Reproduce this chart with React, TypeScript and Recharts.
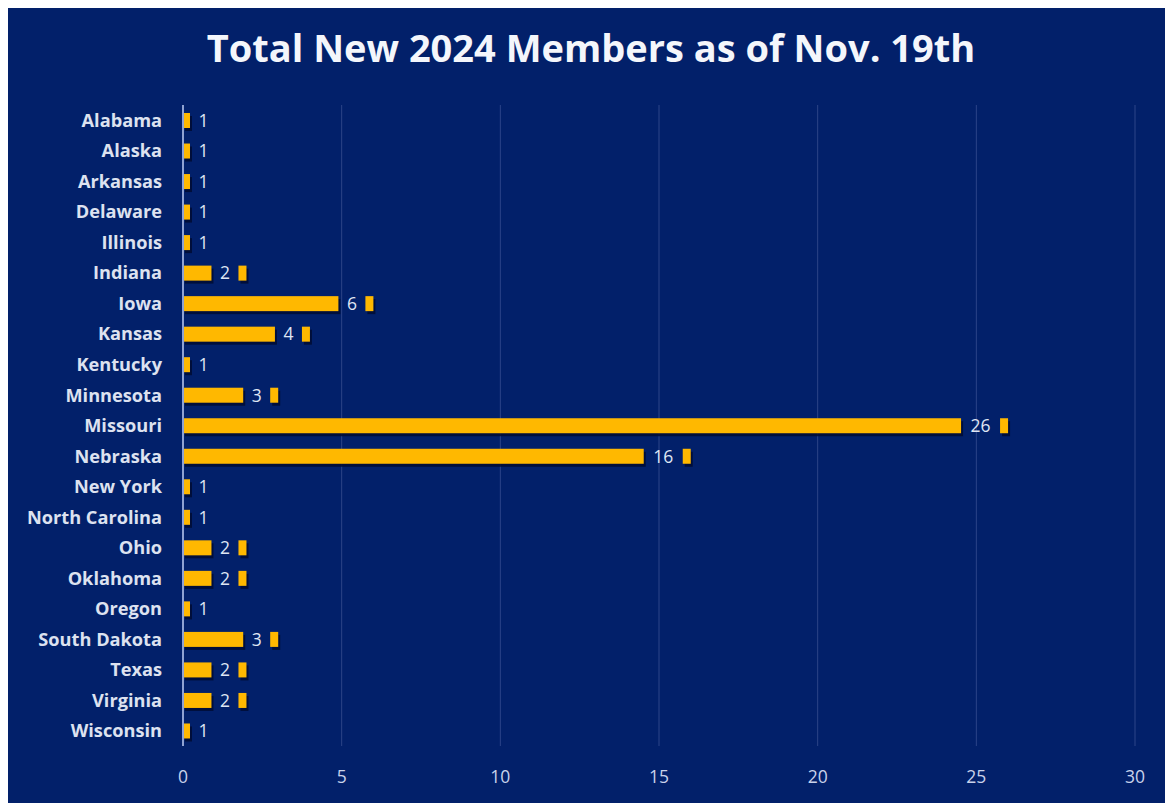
import React from 'react';
import { BarChart, Bar, XAxis, YAxis, CartesianGrid } from 'recharts';

const states = [
  'Alabama', 'Alaska', 'Arkansas', 'Delaware', 'Illinois', 'Indiana', 'Iowa', 'Kansas',
  'Kentucky', 'Minnesota', 'Missouri', 'Nebraska', 'New York', 'North Carolina', 'Ohio',
  'Oklahoma', 'Oregon', 'South Dakota', 'Texas', 'Virginia', 'Wisconsin',
];
const members = [1, 1, 1, 1, 1, 2, 6, 4, 1, 3, 26, 16, 1, 1, 2, 2, 1, 3, 2, 2, 1];
const xTicks = [0, 5, 10, 15, 20, 25, 30];
const title = 'Total New 2024 Members as of Nov. 19th';

const data = states.map((s, i) => ({ state: s, value: members[i] }));

const BG = '#02206a';
const GOLD = '#FFB800';
const SHADOW = '#000c33';
const FONT = '"Open Sans", "Noto Sans", sans-serif';

const BarShape = (props: any) => {
  const { x, y, width, height, payload } = props;
  const v = payload.value;
  const label = String(v);
  const boxW = 15 + 12 * label.length;
  const seg = 8;
  const end = x + width;
  const boxStart = Math.max(x + 7, end - seg - boxW);
  const segStart = boxStart + boxW;
  const cy = y + height / 2;
  return (
    <g>
      <rect x={x + 2} y={y + 3} width={boxStart - x} height={height} fill={SHADOW} opacity={0.85} />
      <rect x={x} y={y} width={boxStart - x} height={height} fill={GOLD} />
      {segStart < end && (
        <>
          <rect x={segStart + 2} y={y + 3} width={end - segStart} height={height} fill={SHADOW} opacity={0.85} />
          <rect x={segStart} y={y} width={end - segStart} height={height} fill={GOLD} />
        </>
      )}
      <text
        x={boxStart + boxW / 2}
        y={cy}
        dy="0.36em"
        textAnchor="middle"
        fontFamily={FONT}
        fontSize={17.5}
        fill="#dfe5f3"
      >
        {label}
      </text>
    </g>
  );
};

const YTick = (props: any) => {
  const { x, y, payload } = props;
  return (
    <text
      x={x - 21}
      y={y}
      dy="0.36em"
      textAnchor="end"
      fontFamily={FONT}
      fontWeight={700}
      fontSize={18.2}
      fill="#dde2f0"
    >
      {payload.value}
    </text>
  );
};

const XTick = (props: any) => {
  const { x, y, payload } = props;
  return (
    <text
      x={x}
      y={y + 31}
      dy="0.36em"
      textAnchor="middle"
      fontFamily={FONT}
      fontSize={17.5}
      fill="#c9d2ea"
    >
      {payload.value}
    </text>
  );
};

export default function App() {
  const W = 1165;
  const H = 795;
  return (
    <div style={{ width: W, height: H, background: BG, position: 'relative' }}>
      <svg width={W} height={80} style={{ position: 'absolute', top: 0, left: 0 }}>
        <text
          x={583}
          y={54}
          textAnchor="middle"
          fontFamily={FONT}
          fontWeight={700}
          fontSize={38}
          fill="#f4f6fb"
        >
          {title}
        </text>
      </svg>
      <BarChart
        width={W}
        height={H}
        data={data}
        layout="vertical"
        margin={{ top: 97, right: 38, bottom: 27, left: 0 }}
        barSize={15}
      >
        <CartesianGrid horizontal={false} vertical={true} stroke="#2c4488" strokeWidth={1} />
        <XAxis
          type="number"
          domain={[0, 30]}
          ticks={xTicks}
          axisLine={false}
          tickLine={false}
          tickSize={0}
          tickMargin={0}
          tick={<XTick />}
          height={30}
          interval={0}
        />
        <YAxis
          type="category"
          dataKey="state"
          width={175}
          axisLine={{ stroke: '#8fa2d2', strokeWidth: 2 }}
          tickLine={false}
          tickSize={0}
          tickMargin={0}
          tick={<YTick />}
          interval={0}
        />
        <Bar dataKey="value" isAnimationActive={false} shape={<BarShape />} />
      </BarChart>
    </div>
  );
}
